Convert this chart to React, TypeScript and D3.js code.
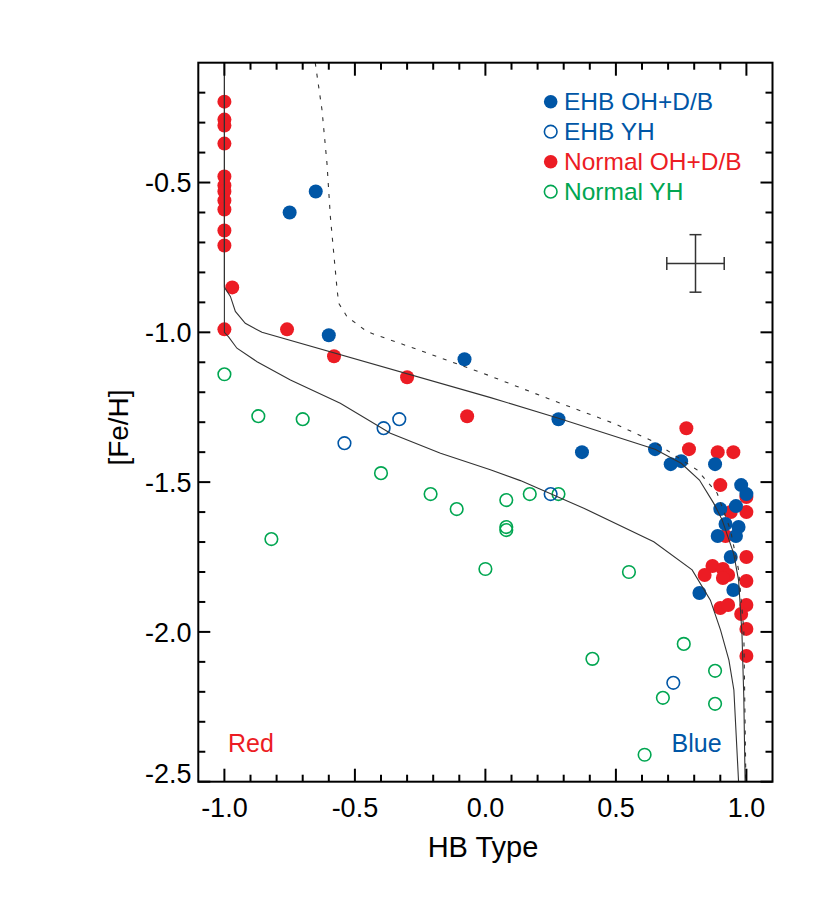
import React from 'react';
import * as d3 from 'd3';

type P = [number, number];

const xMajorTicks = [-1.0, -0.5, 0.0, 0.5, 1.0];
const xTickLabels = ['-1.0', '-0.5', '0.0', '0.5', '1.0'];
const yMajorTicks = [-0.5, -1.0, -1.5, -2.0, -2.5];
const yTickLabels = ['-0.5', '-1.0', '-1.5', '-2.0', '-2.5'];

// Normal OH+D/B (red filled)
const normalOhdb: P[] = [
  [-1.0, -0.23], [-1.0, -0.29], [-1.0, -0.31], [-1.0, -0.37], [-1.0, -0.48],
  [-1.0, -0.51], [-1.0, -0.53], [-1.0, -0.56], [-1.0, -0.59], [-1.0, -0.66],
  [-1.0, -0.71], [-0.97, -0.85], [-1.0, -0.99], [-0.76, -0.99], [-0.58, -1.08],
  [-0.30, -1.15], [-0.07, -1.28],
  [0.77, -1.32], [0.78, -1.39], [0.89, -1.40], [0.95, -1.40], [0.90, -1.51],
  [1.0, -1.55], [1.0, -1.60], [0.94, -1.60], [0.92, -1.68], [1.0, -1.75],
  [0.87, -1.78], [0.84, -1.81], [0.91, -1.79], [0.93, -1.81], [0.91, -1.82],
  [1.0, -1.83], [0.90, -1.92], [0.93, -1.91], [1.0, -1.91], [0.98, -1.94],
  [1.0, -1.99], [1.0, -2.08],
];

// Normal YH (green open)
const normalYh: P[] = [
  [-1.0, -1.14], [-0.87, -1.28], [-0.70, -1.29], [-0.82, -1.69], [-0.40, -1.47],
  [-0.21, -1.54], [-0.11, -1.59], [0.08, -1.56], [0.17, -1.54], [0.28, -1.54],
  [0.08, -1.65], [0.08, -1.66], [0.0, -1.79], [0.55, -1.80], [0.76, -2.04],
  [0.41, -2.09], [0.88, -2.13], [0.68, -2.22], [0.88, -2.24], [0.61, -2.41],
];

// EHB YH (blue open)
const ehbYh: P[] = [
  [-0.54, -1.37], [-0.39, -1.32], [-0.33, -1.29], [0.25, -1.54], [0.72, -2.17],
];

// EHB OH+D/B (blue filled)
const ehbOhdb: P[] = [
  [-0.65, -0.53], [-0.75, -0.60], [-0.60, -1.01], [-0.08, -1.09], [0.28, -1.29],
  [0.37, -1.40], [0.65, -1.39], [0.71, -1.44], [0.75, -1.43], [0.88, -1.44],
  [0.98, -1.51], [1.0, -1.54], [0.90, -1.59], [0.96, -1.58], [0.92, -1.64],
  [0.97, -1.65], [0.96, -1.68], [0.89, -1.68], [0.94, -1.75], [0.82, -1.87],
  [0.95, -1.86],
];

// Model curves
const curveUpper: P[] = [
  [-1.0, -0.1], [-1.0, -0.85], [-0.977, -0.88], [-0.958, -0.93], [-0.92, -0.97],
  [-0.856, -1.0], [0.02, -1.218], [0.28, -1.287], [0.65, -1.39], [0.75, -1.437],
  [0.82, -1.493], [0.875, -1.571], [0.907, -1.626], [0.951, -1.738], [0.97, -1.827],
  [0.983, -2.005], [0.99, -2.216], [0.995, -2.5],
];
const curveLower: P[] = [
  [-1.0, -0.1], [-1.0, -1.0], [-0.984, -1.015], [-0.952, -1.053], [-0.875, -1.098],
  [-0.747, -1.159], [-0.556, -1.237], [-0.364, -1.337], [-0.172, -1.404], [0.019, -1.459],
  [0.134, -1.495], [0.377, -1.587], [0.645, -1.699], [0.792, -1.793], [0.862, -1.894],
  [0.901, -1.994], [0.933, -2.094], [0.952, -2.194], [0.97, -2.5],
];
const curveDashed: P[] = [
  [-0.652, -0.1], [-0.626, -0.258], [-0.607, -0.436], [-0.594, -0.614], [-0.568, -0.859],
  [-0.562, -0.903], [-0.53, -0.948], [-0.453, -0.998], [-0.236, -1.065], [0.007, -1.142],
  [0.237, -1.22], [0.492, -1.304], [0.645, -1.365], [0.811, -1.459], [0.888, -1.537],
  [0.939, -1.66], [0.97, -1.793], [0.99, -1.994], [0.998, -2.5],
];

const errorBarCenter: P = [0.805, -0.77];
const errorBarSize: P = [0.11, 0.096];

const legendLabels = ['EHB OH+D/B', 'EHB YH', 'Normal OH+D/B', 'Normal YH'];

const BLUE = '#0056A6';
const RED = '#EC1C24';
const GREEN = '#00A651';
const FONT = "'Liberation Sans', Arial, Helvetica, sans-serif";

const L = 198.3, R = 772.5, T = 62.7, B = 781.7;

export default function App() {
  const x = d3.scaleLinear().domain([-1.1, 1.1]).range([L, R]);
  const y = d3.scaleLinear().domain([-0.1, -2.5]).range([T, B]);
  const line = d3.line<P>().x(d => x(d[0])).y(d => y(d[1])).curve(d3.curveLinear);

  const xMinor = d3.range(-10, 11).map(i => i / 10).filter(v => !xMajorTicks.some(m => Math.abs(m - v) < 1e-6));
  const yMinor = d3.range(2, 25).map(i => -i / 10).filter(v => !yMajorTicks.some(m => Math.abs(m - v) < 1e-6));

  const major = 13, minor = 7;
  const legendStyles = [
    { fill: BLUE, stroke: 'none', color: BLUE },
    { fill: 'none', stroke: BLUE, color: BLUE },
    { fill: RED, stroke: 'none', color: RED },
    { fill: 'none', stroke: GREEN, color: GREEN },
  ];

  return (
    <svg width={830} height={908} style={{ position: 'absolute', left: 0, top: 0, background: '#fff' }} fontFamily={FONT}>
      <rect x={0} y={0} width={830} height={908} fill="#fff" />
      {/* points */}
      <g>
        {normalOhdb.map((d, i) => (
          <circle key={'r' + i} cx={x(d[0])} cy={y(d[1])} r={7} fill={RED} />
        ))}
        {normalYh.map((d, i) => (
          <circle key={'g' + i} cx={x(d[0])} cy={y(d[1])} r={6.3} fill="none" stroke={GREEN} strokeWidth={1.6} />
        ))}
        {ehbYh.map((d, i) => (
          <circle key={'bo' + i} cx={x(d[0])} cy={y(d[1])} r={6.3} fill="none" stroke={BLUE} strokeWidth={1.6} />
        ))}
        {ehbOhdb.map((d, i) => (
          <circle key={'b' + i} cx={x(d[0])} cy={y(d[1])} r={7} fill={BLUE} />
        ))}
      </g>
      {/* curves */}
      <path d={line(curveUpper) || ''} fill="none" stroke="#333" strokeWidth={1.1} />
      <path d={line(curveLower) || ''} fill="none" stroke="#333" strokeWidth={1.1} />
      <path d={line(curveDashed) || ''} fill="none" stroke="#333" strokeWidth={1.1} strokeDasharray="4,7" />
      {/* error bar */}
      <g stroke="#333" strokeWidth={1.5}>
        <line x1={x(errorBarCenter[0] - errorBarSize[0])} x2={x(errorBarCenter[0] + errorBarSize[0])} y1={y(errorBarCenter[1])} y2={y(errorBarCenter[1])} />
        <line x1={x(errorBarCenter[0])} x2={x(errorBarCenter[0])} y1={y(errorBarCenter[1] + errorBarSize[1])} y2={y(errorBarCenter[1] - errorBarSize[1])} />
        <line x1={x(errorBarCenter[0] - errorBarSize[0])} x2={x(errorBarCenter[0] - errorBarSize[0])} y1={y(errorBarCenter[1]) - 6.5} y2={y(errorBarCenter[1]) + 6.5} />
        <line x1={x(errorBarCenter[0] + errorBarSize[0])} x2={x(errorBarCenter[0] + errorBarSize[0])} y1={y(errorBarCenter[1]) - 6.5} y2={y(errorBarCenter[1]) + 6.5} />
        <line x1={x(errorBarCenter[0]) - 6} x2={x(errorBarCenter[0]) + 6} y1={y(errorBarCenter[1] + errorBarSize[1])} y2={y(errorBarCenter[1] + errorBarSize[1])} />
        <line x1={x(errorBarCenter[0]) - 6} x2={x(errorBarCenter[0]) + 6} y1={y(errorBarCenter[1] - errorBarSize[1])} y2={y(errorBarCenter[1] - errorBarSize[1])} />
      </g>
      {/* ticks */}
      <g stroke="#000" strokeWidth={2}>
        {xMajorTicks.map((v, i) => (
          <g key={'xm' + i}>
            <line x1={x(v)} x2={x(v)} y1={B} y2={B - major} />
            <line x1={x(v)} x2={x(v)} y1={T} y2={T + major} />
          </g>
        ))}
        {xMinor.map((v, i) => (
          <g key={'xn' + i}>
            <line x1={x(v)} x2={x(v)} y1={B} y2={B - minor} />
            <line x1={x(v)} x2={x(v)} y1={T} y2={T + minor} />
          </g>
        ))}
        {yMajorTicks.map((v, i) => (
          <g key={'ym' + i}>
            <line x1={L} x2={L + 12} y1={y(v)} y2={y(v)} />
            <line x1={R} x2={R - 12} y1={y(v)} y2={y(v)} />
          </g>
        ))}
        {yMinor.map((v, i) => (
          <g key={'yn' + i}>
            <line x1={L} x2={L + minor} y1={y(v)} y2={y(v)} />
            <line x1={R} x2={R - minor} y1={y(v)} y2={y(v)} />
          </g>
        ))}
      </g>
      <rect x={L} y={T} width={R - L} height={B - T} fill="none" stroke="#000" strokeWidth={2} />
      {/* tick labels */}
      <g fontSize={27} fill="#000">
        {xMajorTicks.map((v, i) => (
          <text key={'xl' + i} x={x(v)} y={817} textAnchor="middle">{xTickLabels[i]}</text>
        ))}
        {yMajorTicks.map((v, i) => (
          <text key={'yl' + i} x={191.5} y={i === yMajorTicks.length - 1 ? y(v) - 8 : y(v)} dy="0.36em" textAnchor="end">{yTickLabels[i]}</text>
        ))}
      </g>
      {/* axis titles */}
      <text x={483} y={857} textAnchor="middle" fontSize={29} fill="#000">HB Type</text>
      <text transform={`translate(128,${427.5}) rotate(-90)`} textAnchor="middle" fontSize={28} fill="#000">[Fe/H]</text>
      {/* legend */}
      <g>
        {legendLabels.map((lab, i) => {
          const cy = 101.7 + i * 30;
          const s = legendStyles[i];
          return (
            <g key={'lg' + i}>
              <circle cx={550.7} cy={cy} r={s.fill === 'none' ? 6.3 : 6.8} fill={s.fill} stroke={s.stroke} strokeWidth={1.6} />
              <text x={564} y={cy + 8.5} fontSize={24.5} fill={s.color}>{lab}</text>
            </g>
          );
        })}
      </g>
      {/* Red / Blue annotations */}
      <text x={228} y={752} fontSize={25} fill={RED}>Red</text>
      <text x={671.5} y={751.5} fontSize={25} fill={BLUE}>Blue</text>
    </svg>
  );
}
